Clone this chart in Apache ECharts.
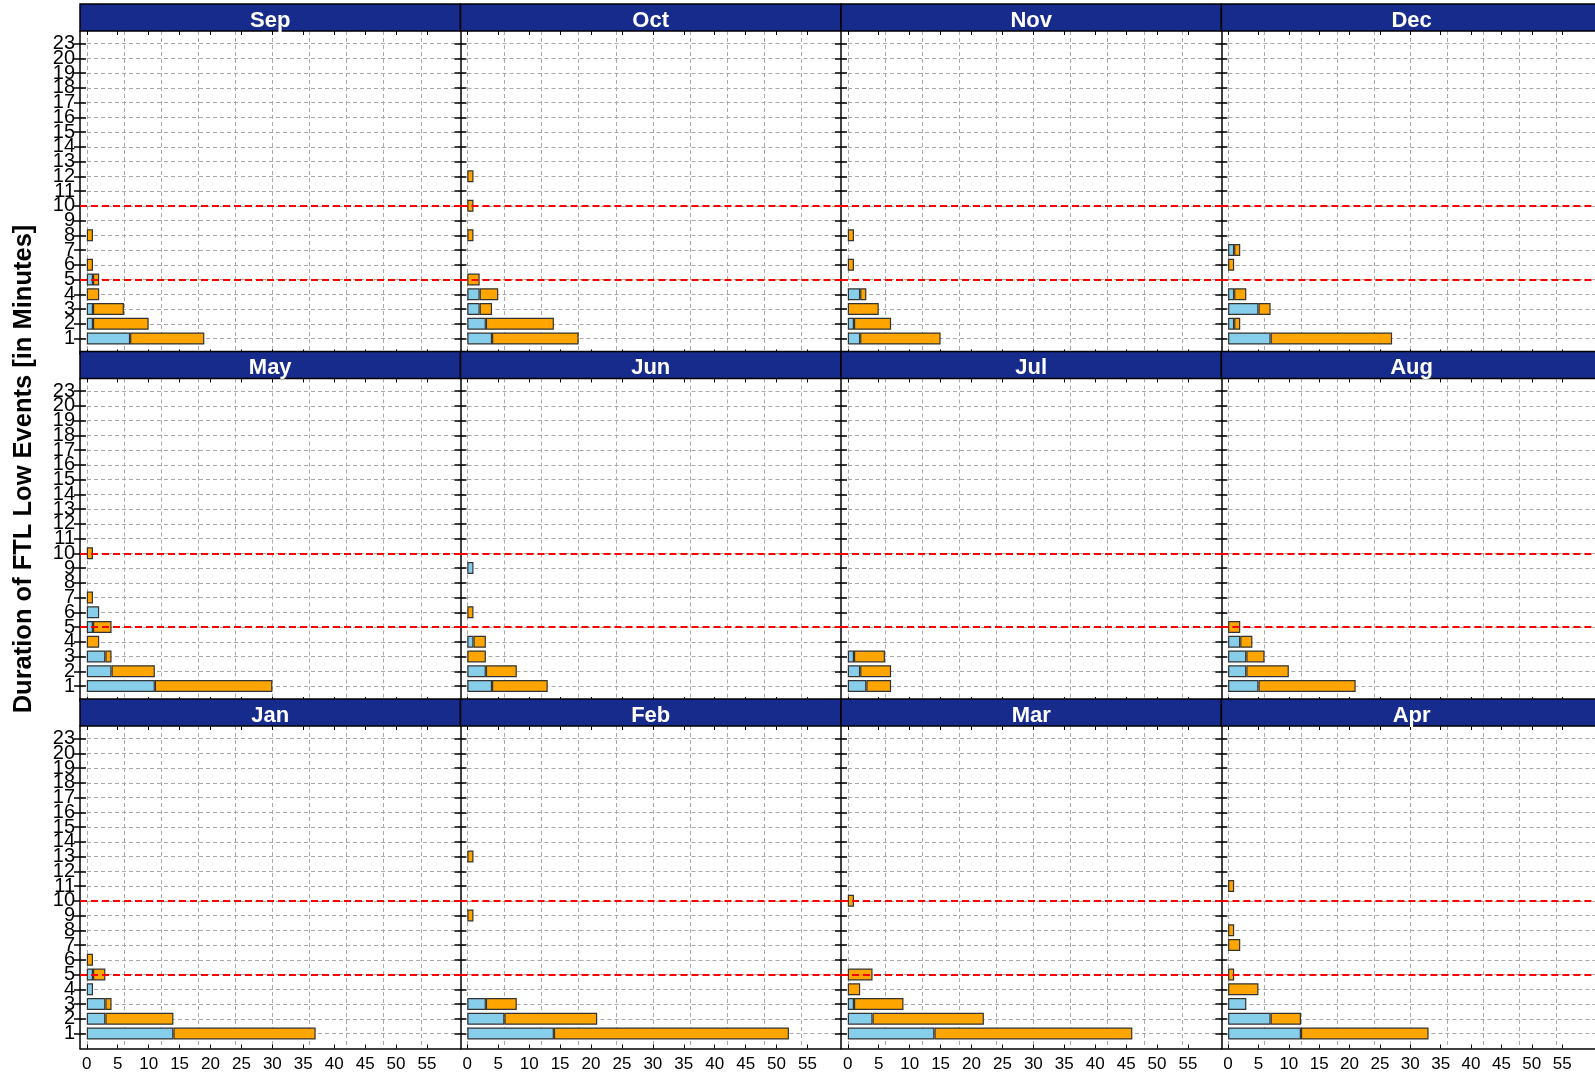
<!DOCTYPE html>
<html>
<head>
<meta charset="utf-8">
<script src="https://cdn.jsdelivr.net/npm/echarts@6/dist/echarts.min.js"></script>
<style>
html,body{margin:0;padding:0;background:#fff;}
#c{width:1595px;height:1081px;}
</style>
</head>
<body>
<div id="c"></div>
<script>
// ---- data ----
const categories = ['1','2','3','4','5','6','7','8','9','10','11','12','13','14','15','16','17','18','19','20','23'];
const xTickLabels = [0,5,10,15,20,25,30,35,40,45,50,55];
const gridLineValues = [0,6,12,18,24,30,36,42,48,54];
const refLines = ['5','10'];
const yTitle = 'Duration of FTL Low Events [in Minutes]';

const sepBlue   = [7,1,1,0,1,0,0,0,0,0,0,0,0,0,0,0,0,0,0,0,0];
const sepOrange = [12,9,5,2,1,1,0,1,0,0,0,0,0,0,0,0,0,0,0,0,0];
const octBlue   = [4,3,2,2,0,0,0,0,0,0,0,0,0,0,0,0,0,0,0,0,0];
const octOrange = [14,11,2,3,2,0,0,1,0,1,0,1,0,0,0,0,0,0,0,0,0];
const novBlue   = [2,1,0,2,0,0,0,0,0,0,0,0,0,0,0,0,0,0,0,0,0];
const novOrange = [13,6,5,1,0,1,0,1,0,0,0,0,0,0,0,0,0,0,0,0,0];
const decBlue   = [7,1,5,1,0,0,1,0,0,0,0,0,0,0,0,0,0,0,0,0,0];
const decOrange = [20,1,2,2,0,1,1,0,0,0,0,0,0,0,0,0,0,0,0,0,0];
const mayBlue   = [11,4,3,0,1,2,0,0,0,0,0,0,0,0,0,0,0,0,0,0,0];
const mayOrange = [19,7,1,2,3,0,1,0,0,1,0,0,0,0,0,0,0,0,0,0,0];
const junBlue   = [4,3,0,1,0,0,0,0,1,0,0,0,0,0,0,0,0,0,0,0,0];
const junOrange = [9,5,3,2,0,1,0,0,0,0,0,0,0,0,0,0,0,0,0,0,0];
const julBlue   = [3,2,1,0,0,0,0,0,0,0,0,0,0,0,0,0,0,0,0,0,0];
const julOrange = [4,5,5,0,0,0,0,0,0,0,0,0,0,0,0,0,0,0,0,0,0];
const augBlue   = [5,3,3,2,0,0,0,0,0,0,0,0,0,0,0,0,0,0,0,0,0];
const augOrange = [16,7,3,2,2,0,0,0,0,0,0,0,0,0,0,0,0,0,0,0,0];
const janBlue   = [14,3,3,1,1,0,0,0,0,0,0,0,0,0,0,0,0,0,0,0,0];
const janOrange = [23,11,1,0,2,1,0,0,0,0,0,0,0,0,0,0,0,0,0,0,0];
const febBlue   = [14,6,3,0,0,0,0,0,0,0,0,0,0,0,0,0,0,0,0,0,0];
const febOrange = [38,15,5,0,0,0,0,0,1,0,0,0,1,0,0,0,0,0,0,0,0];
const marBlue   = [14,4,1,0,0,0,0,0,0,0,0,0,0,0,0,0,0,0,0,0,0];
const marOrange = [32,18,8,2,4,0,0,0,0,1,0,0,0,0,0,0,0,0,0,0,0];
const aprBlue   = [12,7,3,0,0,0,0,0,0,0,0,0,0,0,0,0,0,0,0,0,0];
const aprOrange = [21,5,0,5,1,0,2,1,0,0,1,0,0,0,0,0,0,0,0,0,0];

const panels = [
  {name:'Sep', blue:sepBlue, orange:sepOrange},
  {name:'Oct', blue:octBlue, orange:octOrange},
  {name:'Nov', blue:novBlue, orange:novOrange},
  {name:'Dec', blue:decBlue, orange:decOrange},
  {name:'May', blue:mayBlue, orange:mayOrange},
  {name:'Jun', blue:junBlue, orange:junOrange},
  {name:'Jul', blue:julBlue, orange:julOrange},
  {name:'Aug', blue:augBlue, orange:augOrange},
  {name:'Jan', blue:janBlue, orange:janOrange},
  {name:'Feb', blue:febBlue, orange:febOrange},
  {name:'Mar', blue:marBlue, orange:marOrange},
  {name:'Apr', blue:aprBlue, orange:aprOrange}
];

// ---- layout ----
const colLeft = [80, 460.5, 841, 1221.4];
const panelW = 380.4;
const rowTop = [4, 351.5, 699];
const titleH = 27, plotH = 322.5;
const catPad = 12.5, catSpan = 295;
const X_MIN = -1.1, X_MAX = 60.4;
const FONT = '"Liberation Sans", Arial, sans-serif';
const gridColor = '#a9a9a9';

const grid = [], xAxis = [], yAxis = [], series = [], graphic = [];

panels.forEach((p, i) => {
  const r = Math.floor(i / 4), c = i % 4;
  const left = colLeft[c], top = rowTop[r] + titleH;

  const gA = grid.length;
  grid.push({left: left, top: top, width: panelW, height: plotH});
  const gB = grid.length;
  grid.push({left: left, top: top + catPad, width: panelW, height: catSpan});

  // frame axis: vertical dashed grid lines + bottom line
  xAxis.push({
    type: 'value', gridIndex: gA, position: 'bottom', min: X_MIN, max: X_MAX,
    axisLine: {show: true, onZero: false, lineStyle: {color: '#000', width: 1.5}},
    axisTick: {show: false, customValues: gridLineValues},
    axisLabel: {show: false},
    splitLine: {show: true, lineStyle: {color: gridColor, type: [4, 3], width: 1}}
  });
  // bottom ticks + labels
  xAxis.push({
    type: 'value', gridIndex: gA, position: 'bottom', min: X_MIN, max: X_MAX,
    axisLine: {show: false, onZero: false},
    axisTick: {show: true, inside: true, length: 4, customValues: xTickLabels, lineStyle: {color: '#000', width: 1}},
    axisLabel: {show: r === 2, customValues: xTickLabels, fontSize: 17, color: '#000', margin: 7, fontFamily: FONT},
    splitLine: {show: false}
  });
  // top ticks
  xAxis.push({
    type: 'value', gridIndex: gA, position: 'top', min: X_MIN, max: X_MAX,
    axisLine: {show: false, onZero: false},
    axisTick: {show: true, inside: true, length: 4, customValues: xTickLabels, lineStyle: {color: '#000', width: 1}},
    axisLabel: {show: false},
    splitLine: {show: false}
  });
  const xB = xAxis.length;
  xAxis.push({type: 'value', gridIndex: gB, min: X_MIN, max: X_MAX, show: false,
    splitLine: {show: false}});

  yAxis.push({
    type: 'value', gridIndex: gA, min: 0, max: 1,
    axisLine: {show: true, onZero: false, lineStyle: {color: '#000', width: 1.5}},
    axisTick: {show: false}, axisLabel: {show: false}, splitLine: {show: false}
  });
  const yB = yAxis.length;
  yAxis.push({
    type: 'category', gridIndex: gB, data: categories, boundaryGap: false, position: 'left',
    axisLine: {show: false, onZero: false},
    axisTick: {show: true, inside: false, length: 6, interval: 0, lineStyle: {color: '#000', width: 1.5}},
    axisLabel: {show: c === 0, interval: 0, fontSize: 20, color: '#000', margin: 5, fontFamily: FONT},
    splitLine: {show: true, interval: 0, lineStyle: {color: gridColor, type: [4, 3], width: 1}}
  });
  yAxis.push({
    type: 'category', gridIndex: gB, data: categories, boundaryGap: false, position: 'left',
    axisLine: {show: false, onZero: false},
    axisTick: {show: true, inside: true, length: 6, interval: 0, lineStyle: {color: '#000', width: 1.5}},
    axisLabel: {show: false}, splitLine: {show: false}
  });

  series.push({
    type: 'bar', name: p.name + ' A', xAxisIndex: xB, yAxisIndex: yB, stack: 'st' + i,
    barWidth: 12, clip: false,
    data: p.blue.map(v => v || null),
    itemStyle: {color: '#87CEEB', borderColor: '#333', borderWidth: 1.2}
  });
  series.push({
    type: 'bar', name: p.name + ' B', xAxisIndex: xB, yAxisIndex: yB, stack: 'st' + i,
    barWidth: 12, clip: false,
    data: p.orange.map(v => v || null),
    itemStyle: {color: '#FFA500', borderColor: '#333', borderWidth: 1.2},
    markLine: {
      silent: true, symbol: ['none', 'none'], label: {show: false}, z: 10,
      lineStyle: {color: '#ff0000', type: [7, 4], width: 2},
      data: refLines.map(v => ({yAxis: v}))
    }
  });

  // title bar
  graphic.push({
    type: 'rect', z: 100,
    shape: {x: left, y: rowTop[r], width: panelW, height: titleH},
    style: {fill: '#162b8b', stroke: '#000', lineWidth: 1.5}
  });
  graphic.push({
    type: 'text', z: 101, x: left + panelW / 2, y: rowTop[r] + titleH / 2 + 3,
    style: {text: p.name, fill: '#fff', font: 'bold 22px ' + FONT, align: 'center', verticalAlign: 'middle'}
  });
});

graphic.push({
  type: 'text', z: 101, x: 23.5, y: 469, rotation: Math.PI / 2,
  style: {text: yTitle, fill: '#000', font: 'bold 25.5px ' + FONT, align: 'center', verticalAlign: 'middle'}
});

const chart = echarts.init(document.getElementById('c'), null, {renderer: 'canvas'});
chart.setOption({
  animation: false,
  backgroundColor: '#fff',
  grid: grid, xAxis: xAxis, yAxis: yAxis, series: series, graphic: graphic
});
</script>
</body>
</html>
